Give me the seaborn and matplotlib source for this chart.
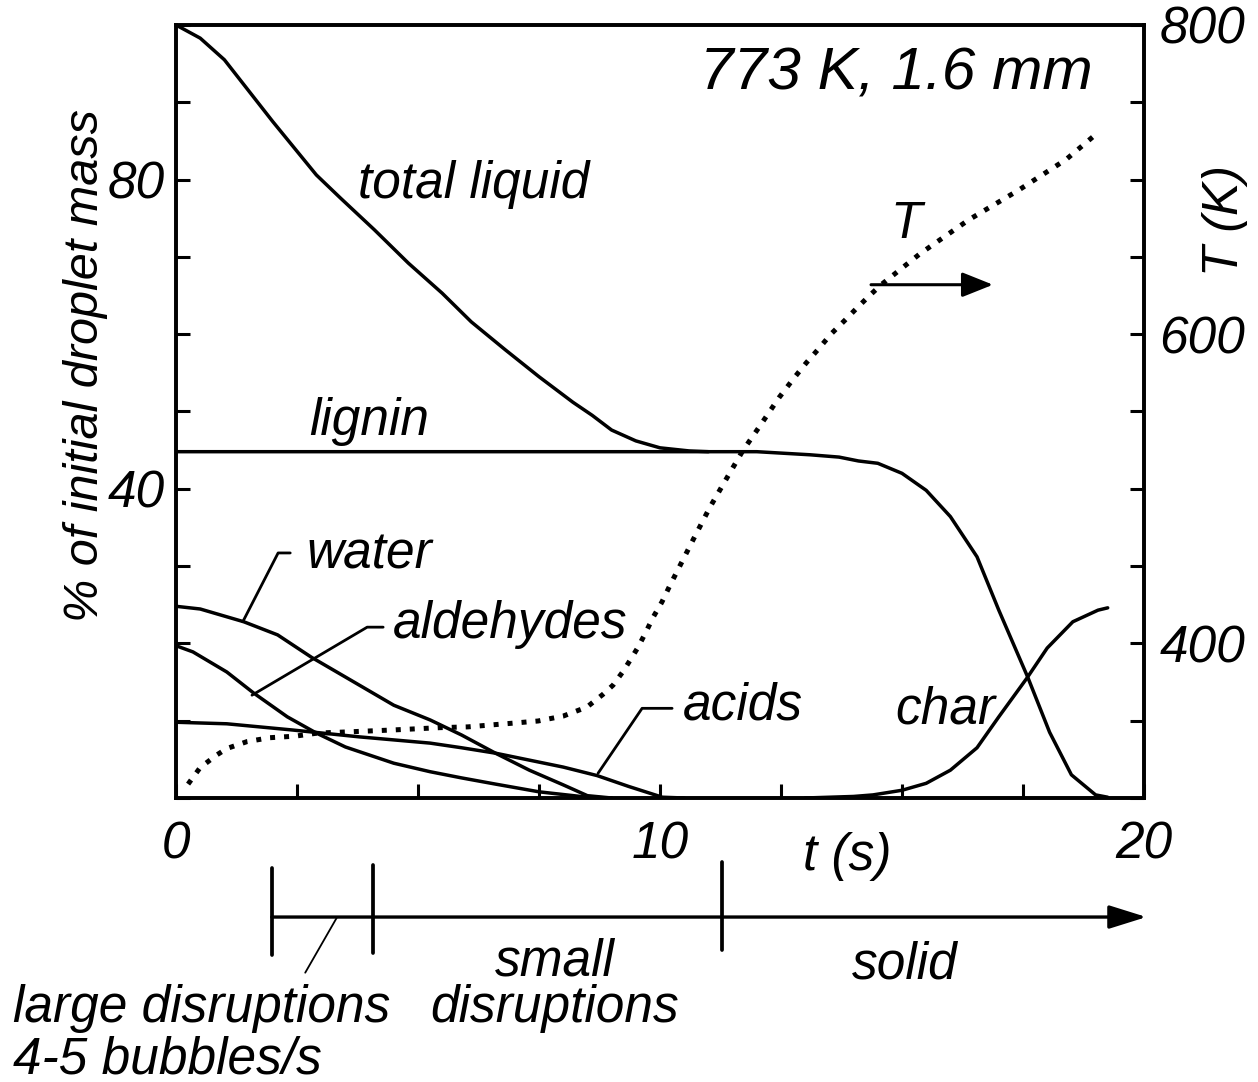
import numpy as np
import pandas as pd
import matplotlib
matplotlib.use("Agg")
import matplotlib.pyplot as plt
import seaborn as sns
from matplotlib.ticker import FixedLocator, FuncFormatter

# ---- droplet composition, % of initial droplet mass vs time (s) ----
t_total = [0, 0.5, 1.0, 2.0, 2.9, 3.4, 4.1, 4.8, 5.5, 6.1, 6.8, 7.5, 8.2, 8.6, 9.0, 9.5, 10.0, 10.6, 11.0]
total_liquid = [100, 98.3, 95.5, 87.5, 80.6, 77.6, 73.5, 69.2, 65.3, 61.6, 58.0, 54.5, 51.2, 49.5, 47.6, 46.2, 45.3, 44.9, 44.8]

t_lignin = [0, 12.0, 13.1, 13.7, 14.1, 14.5, 15.0, 15.5, 16.0, 16.55, 17.0, 17.6, 18.05, 18.5, 19.0, 19.25]
lignin = [44.8, 44.8, 44.4, 44.1, 43.6, 43.3, 42.0, 39.8, 36.4, 31.2, 24.3, 15.6, 8.5, 3.0, 0.4, 0.1]

t_water = [0, 0.5, 1.4, 2.1, 2.8, 3.5, 4.5, 5.25, 5.9, 6.6, 7.3, 8.0, 8.5, 9.0]
water = [24.8, 24.45, 22.8, 21.1, 18.2, 15.65, 12.0, 10.1, 8.15, 5.8, 3.6, 1.7, 0.3, 0.0]

t_aldehydes = [0, 0.35, 1.05, 1.6, 2.3, 2.9, 3.5, 4.5, 5.25, 5.9, 6.6, 7.5, 8.5, 9.0]
aldehydes = [19.7, 18.9, 16.3, 13.6, 10.5, 8.4, 6.6, 4.5, 3.4, 2.6, 1.8, 0.8, 0.1, 0.0]

t_acids = [0, 1.05, 2.4, 3.8, 5.25, 5.9, 6.6, 7.3, 8.0, 8.7, 9.35, 10.05, 10.5]
acids = [9.8, 9.6, 8.8, 7.9, 7.1, 6.5, 5.8, 4.9, 4.0, 2.9, 1.5, 0.1, 0.0]

t_char = [13.0, 14.0, 14.4, 15.0, 15.5, 16.0, 16.55, 17.0, 17.58, 18.0, 18.53, 19.05, 19.25]
char = [0.0, 0.2, 0.4, 1.0, 1.9, 3.6, 6.5, 10.5, 15.5, 19.4, 22.8, 24.3, 24.6]

# ---- droplet temperature (K) ----
t_temp = [0.25, 0.5, 0.85, 1.05, 1.47, 1.94, 2.46, 2.93, 3.5, 4.48, 5.45, 6.03, 6.49, 7.0,
          7.48, 8.0, 8.49, 8.82, 9.03, 9.24, 9.42, 9.55, 9.71, 9.86, 10.04, 10.19, 10.35,
          10.7, 11.03, 11.4, 11.71, 12.05, 12.46, 12.77, 13.02, 13.29, 13.53, 13.82,
          14.07, 14.32, 14.57, 15.37, 16.38, 17.4, 18.39, 19.07]
temp_K = [309, 319.7, 328, 332, 336.5, 339, 340, 342, 342.7, 344, 345.5, 346, 347.2, 348.5,
          349.8, 353, 358.8, 367, 373, 382, 391, 397.7, 407.4, 417, 426.8, 436.5, 446.4,
          468, 488, 508, 524.6, 540, 559, 571.7, 581.4, 591, 600, 609,
          617, 624.7, 632, 652, 674, 693, 713, 731]

x_tick_labels = {0: "0", 10: "10", 20: "20"}
left_tick_labels = {40: "40", 80: "80"}
right_tick_labels = {400: "400", 600: "600", 800: "800"}

sns.set_theme(style="ticks")
plt.rcParams["font.family"] = ["Liberation Sans", "DejaVu Sans"]
plt.rcParams["font.style"] = "italic"
plt.rcParams["axes.linewidth"] = 2.6
plt.rcParams["axes.edgecolor"] = "black"
plt.rcParams["text.color"] = "black"
plt.rcParams["axes.labelcolor"] = "black"
plt.rcParams["xtick.color"] = "black"
plt.rcParams["ytick.color"] = "black"

series = [
    ("total liquid", t_total, total_liquid),
    ("lignin", t_lignin, lignin),
    ("water", t_water, water),
    ("aldehydes", t_aldehydes, aldehydes),
    ("acids", t_acids, acids),
    ("char", t_char, char),
]
df = pd.concat(
    [pd.DataFrame({"t": t, "mass": m, "component": name}) for name, t, m in series],
    ignore_index=True,
)

fig = plt.figure(figsize=(12.58, 10.82), dpi=100)
ax = fig.add_axes([0.13990, 0.26248, 0.76948, 0.71442])

sns.lineplot(data=df, x="t", y="mass", units="component", estimator=None,
             color="black", lw=2.5, ax=ax, legend=False)

ax2 = ax.twinx()
sns.lineplot(x=t_temp, y=temp_K, ax=ax2, color="black", lw=3.6, legend=False)
ax2.lines[0].set_linestyle((0, (1, 1.8)))

ax.set_xlim(0, 20)
ax.set_ylim(0, 100)
ax2.set_ylim(300, 800)

ax.xaxis.set_major_locator(FixedLocator(np.arange(0, 20.01, 2.5)))
ax.xaxis.set_major_formatter(FuncFormatter(lambda v, p: x_tick_labels.get(int(round(v)), "") if abs(v - round(v)) < 1e-6 else ""))
ax.yaxis.set_major_locator(FixedLocator(np.arange(0, 100.1, 10)))
ax.yaxis.set_major_formatter(FuncFormatter(lambda v, p: left_tick_labels.get(int(round(v)), "")))
ax2.yaxis.set_major_locator(FixedLocator(np.arange(300, 800.1, 50)))
ax2.yaxis.set_major_formatter(FuncFormatter(lambda v, p: right_tick_labels.get(int(round(v)), "")))

ax.tick_params(axis="both", direction="in", length=10, width=2.2, labelsize=37,
               top=False, right=False, colors="black")
ax.tick_params(axis="x", pad=16)
ax.tick_params(axis="y", pad=8)
ax2.tick_params(axis="y", direction="in", length=10, width=2.2, labelsize=37, pad=11,
                left=False, right=True, colors="black")
for a in (ax, ax2):
    for s in a.spines.values():
        s.set_linewidth(2.6)
        s.set_color("black")

ax.set_xlabel("")
ax.set_ylabel("% of initial droplet mass", fontsize=35, va="center")
ax.yaxis.set_label_coords(-0.094, 0.560)
ax2.set_ylabel("T (K)", fontsize=36, va="center")
ax2.yaxis.set_label_coords(1.0837, 0.7477)

fs = 37
ax.text(18.93, 91.6, "773 K, 1.6 mm", fontsize=43.5, ha="right", va="baseline")
ax.text(6.16, 77.6, "total liquid", fontsize=fs, ha="center", va="baseline")
ax.text(4.0, 47.0, "lignin", fontsize=fs, ha="center", va="baseline")
ax.text(2.7, 29.75, "water", fontsize=fs, ha="left", va="baseline")
ax.text(4.48, 20.7, "aldehydes", fontsize=fs, ha="left", va="baseline")
ax.text(10.48, 10.1, "acids", fontsize=fs, ha="left", va="baseline")
ax.text(14.86, 9.7, "char", fontsize=fs, ha="left", va="baseline")
ax.text(14.75, 72.4, "T", fontsize=fs, ha="left", va="baseline")
ax.text(13.86, -9.3, "t (s)", fontsize=fs, ha="center", va="baseline")

# leader lines from labels to curves
ax.plot([1.38, 2.11, 2.36], [22.8, 31.7, 31.7], color="black", lw=2.0)
ax.plot([1.57, 3.95, 4.28], [13.3, 22.1, 22.1], color="black", lw=2.0)
ax.plot([8.72, 9.63, 10.25], [3.2, 11.6, 11.6], color="black", lw=2.0)

# temperature belongs to the right axis
ax.annotate("", xy=(16.88, 66.4), xytext=(14.36, 66.4),
            arrowprops=dict(arrowstyle="-|>,head_length=0.95,head_width=0.38",
                            mutation_scale=20, color="black", lw=2.2,
                            shrinkA=0, shrinkB=0))

# regime timeline below the time axis
y_line = -15.4
ax.annotate("", xy=(20.05, y_line), xytext=(1.98, y_line), annotation_clip=False,
            arrowprops=dict(arrowstyle="-|>,head_length=1.15,head_width=0.36",
                            mutation_scale=20, color="black", lw=2.4,
                            shrinkA=0, shrinkB=0))
for xb, y0, y1 in [(1.98, -9.06, -20.3), (4.07, -8.67, -20.05), (11.28, -8.28, -19.7)]:
    ax.plot([xb, xb], [y0, y1], color="black", lw=2.7, clip_on=False)
ax.plot([3.33, 2.67], [y_line, -22.6], color="black", lw=1.3, clip_on=False)

ax.text(7.83, -22.9, "small", fontsize=fs, ha="center", va="baseline")
ax.text(7.83, -29.0, "disruptions", fontsize=fs, ha="center", va="baseline")
ax.text(15.06, -23.3, "solid", fontsize=fs, ha="center", va="baseline")
ax.text(-3.37, -29.0, "large disruptions", fontsize=fs, ha="left", va="baseline")
ax.text(-3.37, -35.6, "4-5 bubbles/s", fontsize=fs, ha="left", va="baseline")

fig.savefig("out.png", dpi=100, facecolor="white")
